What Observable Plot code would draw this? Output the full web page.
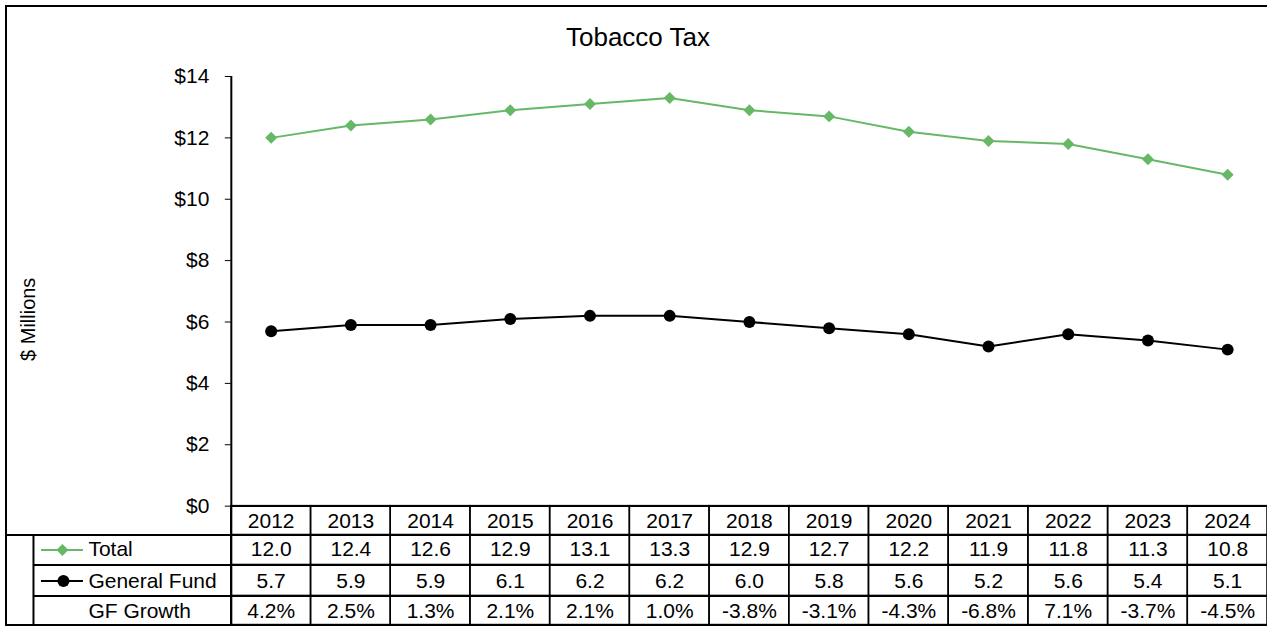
<!DOCTYPE html>
<html>
<head>
<meta charset="utf-8">
<script src="https://cdn.jsdelivr.net/npm/d3@7"></script>
<script src="https://cdn.jsdelivr.net/npm/@observablehq/plot@0.6"></script>
<style>
  html, body { margin: 0; padding: 0; overflow: hidden; background: #fff; }
  #wrap { position: relative; width: 1267px; height: 626px; overflow: hidden; font-family: Arial, "Liberation Sans", sans-serif; }
  #title { position: absolute; left: 5px; top: 22px; width: 1266px; height: 30px; line-height: 30px; text-align: center; font-size: 26px; color: #000; }
  #chart { position: absolute; left: 0; top: 56px; }
  #border { position: absolute; left: 5px; top: 5px; width: 1320px; height: 700px; border: 2px solid #000; box-sizing: border-box; pointer-events: none; }
</style>
</head>
<body>
<div id="wrap">
  <div id="title">Tobacco Tax</div>
  <div id="chart"></div>
  <div id="border"></div>
</div>
<script>
// ---- data ----
const years = ["2012","2013","2014","2015","2016","2017","2018","2019","2020","2021","2022","2023","2024"];
const total = [12.0, 12.4, 12.6, 12.9, 13.1, 13.3, 12.9, 12.7, 12.2, 11.9, 11.8, 11.3, 10.8];
const generalFund = [5.7, 5.9, 5.9, 6.1, 6.2, 6.2, 6.0, 5.8, 5.6, 5.2, 5.6, 5.4, 5.1];
const gfGrowth = [4.2, 2.5, 1.3, 2.1, 2.1, 1.0, -3.8, -3.1, -4.3, -6.8, 7.1, -3.7, -4.5];
const yTicks = [0, 2, 4, 6, 8, 10, 12, 14];
const seriesNames = ["Total", "General Fund", "GF Growth"];
const yLabel = "$ Millions";

// ---- layout ----
const W = 1268, H = 570, ML = 231, MT = 20, MB = 120, MR = 0;
const FH = H - MT - MB;
const bw = (W - ML - MR) / years.length;
const green = "#66b866";
const FS = 21;
// table row boundaries below the frame bottom
const rowEdges = [0, 29, 59, 90, 119];
const rowMid = [15, 43.5, 75, 105];

const rows = years.map((year, i) => ({
  year,
  total: total[i],
  gf: generalFund[i],
  growth: gfGrowth[i]
}));

function rowCells(k) {
  return Plot.cell(years, {
    x: d => d, fill: "none", stroke: "#000", strokeWidth: 1.5,
    insetTop: FH + rowEdges[k], insetBottom: -rowEdges[k + 1]
  });
}
function rowText(text, k) {
  return Plot.text(rows, { x: "year", text, frameAnchor: "bottom", lineAnchor: "middle", dy: rowMid[k], fontSize: FS, fill: "#000" });
}
function nameText(k) {
  return Plot.text([seriesNames[k]], {
    frameAnchor: "bottom-left", text: d => d, textAnchor: "start", lineAnchor: "middle",
    dx: 88 - ML, dy: rowMid[k + 1], fontSize: FS, fill: "#000"
  });
}

const plot = Plot.plot({
  width: W, height: H,
  marginLeft: ML, marginRight: MR, marginTop: MT, marginBottom: MB,
  style: { fontFamily: "Arial, 'Liberation Sans', sans-serif", fontSize: FS + "px", color: "#000", background: "transparent", overflow: "visible" },
  x: { type: "band", domain: years, padding: 0, round: false, axis: null },
  y: { domain: [0, 14], ticks: yTicks, tickFormat: d => "$" + d, tickSize: 6, tickPadding: 16, label: null },
  marks: [
    // table grid
    rowCells(0), rowCells(1), rowCells(2), rowCells(3),
    // y axis line continuing down the table
    Plot.ruleX([years[0]], { dx: -bw / 2, insetBottom: -rowEdges[4], stroke: "#000", strokeWidth: 2 }),
    // legend column vertical
    Plot.ruleX([years[0]], { dx: -bw / 2 - (ML - 33), insetTop: FH + rowEdges[1], insetBottom: -rowEdges[4], stroke: "#000", strokeWidth: 2 }),
    // horizontal lines extending left
    Plot.ruleY([0], { dy: rowEdges[1], insetLeft: -(ML - 6), stroke: "#000", strokeWidth: 2 }),
    Plot.ruleY([0], { dy: rowEdges[2], insetLeft: -(ML - 33), stroke: "#000", strokeWidth: 2 }),
    Plot.ruleY([0], { dy: rowEdges[3], insetLeft: -(ML - 33), stroke: "#000", strokeWidth: 2 }),
    Plot.ruleY([0], { dy: rowEdges[4], insetLeft: -(ML - 6), stroke: "#000", strokeWidth: 2 }),
    Plot.ruleY([0], { stroke: "#000", strokeWidth: 1.5 }),

    // series
    Plot.line(rows, { x: "year", y: "total", stroke: green, strokeWidth: 2 }),
    Plot.dot(rows, { x: "year", y: "total", symbol: "diamond2", r: 5.4, fill: green, stroke: "none" }),
    Plot.line(rows, { x: "year", y: "gf", stroke: "#000", strokeWidth: 2 }),
    Plot.dot(rows, { x: "year", y: "gf", r: 6, fill: "#000", stroke: "none" }),

    // y label
    Plot.text([yLabel], { frameAnchor: "left", text: d => d, rotate: -90, textAnchor: "middle", lineAnchor: "middle", dx: 28 - ML, dy: 28, fontSize: 20, fill: "#000" }),

    // table text
    rowText("year", 0),
    rowText(d => d.total.toFixed(1), 1),
    rowText(d => d.gf.toFixed(1), 2),
    rowText(d => d.growth.toFixed(1) + "%", 3),

    // legend swatches in table
    Plot.ruleY([0], { dy: rowMid[1] + 0.5, insetLeft: -(ML - 41), insetRight: W - 83, stroke: green, strokeWidth: 2 }),
    Plot.dot([0], { frameAnchor: "bottom-left", dx: 62 - ML, dy: rowMid[1] + 0.5, symbol: "diamond2", r: 5.4, fill: green, stroke: "none" }),
    Plot.ruleY([0], { dy: rowMid[2], insetLeft: -(ML - 41), insetRight: W - 83, stroke: "#000", strokeWidth: 2 }),
    Plot.dot([0], { frameAnchor: "bottom-left", dx: 63 - ML, dy: rowMid[2], r: 6, fill: "#000", stroke: "none" }),
    nameText(0), nameText(1), nameText(2)
  ]
});

document.getElementById("chart").appendChild(plot);
</script>
</body>
</html>
